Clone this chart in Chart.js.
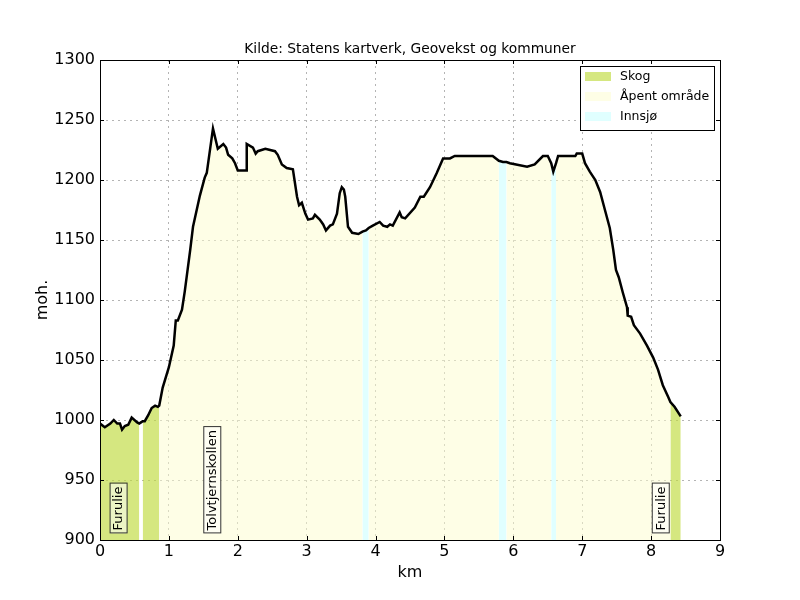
<!DOCTYPE html>
<html lang="no">
<head>
  <meta charset="UTF-8">
  <title>Høydeprofil Furulie</title>
  <script src="https://cdn.jsdelivr.net/npm/chart.js"></script>
  <style>
    body { margin: 0; background: #fff; }
    #wrap { width: 800px; height: 600px; }
  </style>
</head>
<body>
  <div id="wrap"><canvas id="profil" width="800" height="600"></canvas></div>
  <script>
    // avstand (km) og høyde (moh.)
    const km = [
      0, 0.07, 0.15, 0.20, 0.25, 0.29, 0.32, 0.36, 0.41, 0.46, 0.54, 0.57, 0.595, 0.62, 0.65, 0.70, 0.75, 0.80, 0.84, 0.86,
      0.91, 1.00, 1.07, 1.10, 1.13, 1.19, 1.23, 1.31, 1.35, 1.45, 1.52, 1.55, 1.64, 1.71, 1.79, 1.83, 1.86, 1.92, 1.96, 2.00,
      2.12, 2.13, 2.22, 2.26, 2.29, 2.40, 2.54, 2.58, 2.64, 2.71, 2.80, 2.86, 2.89, 2.93, 2.98, 3.02, 3.09, 3.12, 3.19, 3.24,
      3.28, 3.34, 3.38, 3.44, 3.48, 3.51, 3.54, 3.56, 3.60, 3.66, 3.75, 3.81, 3.86, 3.90, 3.96, 4.06, 4.11, 4.17, 4.21, 4.25, 4.35,
      4.38, 4.43, 4.57, 4.65, 4.70, 4.79, 4.89, 4.98, 5.08, 5.15, 5.70, 5.79, 5.85, 5.90, 5.95, 6.20, 6.31, 6.43, 6.50, 6.55,
      6.58, 6.62, 6.65, 6.90, 6.92, 7.00, 7.04, 7.11, 7.19, 7.26, 7.33, 7.40, 7.45, 7.49, 7.53, 7.59, 7.65, 7.66, 7.71, 7.75,
      7.84, 7.94, 8.03, 8.10, 8.17, 8.25, 8.28, 8.34, 8.43
    ];
    const hoyde = [
      997, 994, 997, 1000, 997, 997, 992, 995, 996, 1002, 998, 997, 998, 999, 999, 1004, 1010, 1012, 1011, 1012,
      1027, 1044, 1062, 1083, 1083, 1092, 1107, 1142, 1161, 1187, 1202, 1206, 1243, 1226, 1230, 1227, 1221, 1218, 1214, 1208,
      1208, 1230, 1227, 1222, 1224, 1226, 1224, 1221, 1213, 1210, 1209, 1186, 1179, 1181, 1172, 1167, 1168, 1171, 1167, 1163,
      1158, 1162, 1163, 1172, 1189, 1194, 1192, 1186, 1161, 1156, 1155, 1157, 1158, 1160, 1162, 1165, 1162, 1161, 1163, 1162, 1173,
      1169, 1168, 1177, 1186, 1186, 1194, 1206, 1218, 1218, 1220, 1220, 1216, 1215, 1215, 1214, 1211, 1213, 1220, 1220, 1214,
      1207, 1214, 1220, 1220, 1222, 1222, 1214, 1207, 1200, 1190, 1175, 1160, 1142, 1125, 1119, 1106, 1094, 1087, 1086, 1079,
      1072, 1062, 1052, 1042, 1029, 1019, 1015, 1011, 1003
    ];

    // arealtype langs ruta: [fra km, til km]
    const skog = [[0, 0.57], [0.62, 0.86], [8.28, 8.43]];
    const apent = [[0.86, 3.81], [3.90, 5.79], [5.90, 6.55], [6.62, 8.28]];
    const innsjo = [[3.81, 3.90], [5.79, 5.90], [6.55, 6.62]];

    const stedsnavn = ['Furulie', 'Tolvtjernskollen', 'Furulie'];
    const stedKm = [0.27, 1.63, 8.14];

    const xTicks = [0, 1, 2, 3, 4, 5, 6, 7, 8, 9];
    const yTicks = [900, 950, 1000, 1050, 1100, 1150, 1200, 1250, 1300];

    const font = 'DejaVu Sans';

    function omrade(ranges) {
      return km.map((x, i) => ranges.some(r => x >= r[0] && x <= r[1]) ? { x: x, y: hoyde[i] } : { x: x, y: null });
    }

    function fyll(label, ranges, color) {
      return {
        label: label,
        data: omrade(ranges),
        backgroundColor: color,
        borderWidth: 0,
        borderColor: 'rgba(0,0,0,0)',
        pointRadius: 0,
        fill: { value: 900 },
        spanGaps: false,
        tension: 0,
        order: 2
      };
    }

    const farger = {
      skog: 'rgba(190,218,60,0.65)',
      apent: 'rgba(253,253,205,0.5)',
      innsjo: '#e0ffff'
    };

    const ramme = {
      id: 'ramme',
      afterDatasetsDraw(chart) {
        const { ctx, chartArea: a, scales } = chart;
        const xs = scales.x, ys = scales.y;

        // stedsnavn
        ctx.save();
        ctx.font = '13px "' + font + '"';
        stedsnavn.forEach((navn, i) => {
          const px = xs.getPixelForValue(stedKm[i]);
          const py = ys.getPixelForValue(905.5);
          const w = ctx.measureText(navn).width;
          ctx.save();
          ctx.translate(px, py);
          ctx.rotate(-Math.PI / 2);
          ctx.fillStyle = 'rgba(255,255,255,0.55)';
          ctx.strokeStyle = '#333';
          ctx.lineWidth = 1;
          ctx.fillRect(0, -8.5, w + 6, 17);
          ctx.strokeRect(0.5, -8.5, w + 6, 17);
          ctx.fillStyle = '#000';
          ctx.textBaseline = 'middle';
          ctx.fillText(navn, 3, 0.5);
          ctx.restore();
        });
        ctx.restore();

        // ramme og innovervendte ticks
        ctx.save();
        ctx.strokeStyle = '#000';
        ctx.lineWidth = 1;
        ctx.strokeRect(Math.round(a.left) + 0.5, Math.round(a.top) + 0.5, Math.round(a.right - a.left), Math.round(a.bottom - a.top));
        ctx.beginPath();
        xTicks.forEach(v => {
          const px = Math.round(xs.getPixelForValue(v)) + 0.5;
          ctx.moveTo(px, a.bottom); ctx.lineTo(px, a.bottom - 4);
          ctx.moveTo(px, a.top); ctx.lineTo(px, a.top + 4);
        });
        yTicks.forEach(v => {
          const py = Math.round(ys.getPixelForValue(v)) + 0.5;
          ctx.moveTo(a.left, py); ctx.lineTo(a.left + 4, py);
          ctx.moveTo(a.right, py); ctx.lineTo(a.right - 4, py);
        });
        ctx.stroke();

        // forklaring
        const lx = a.right - 140, ly = a.top + 6;
        ctx.fillStyle = '#fff';
        ctx.fillRect(lx, ly, 134, 64);
        ctx.strokeRect(lx + 0.5, ly + 0.5, 134, 64);
        const rader = [['Skog', farger.skog], ['Åpent område', farger.apent], ['Innsjø', farger.innsjo]];
        ctx.font = '12.5px "' + font + '"';
        ctx.textBaseline = 'middle';
        rader.forEach((r, i) => {
          const cy = ly + 11 + i * 20;
          ctx.fillStyle = r[1];
          ctx.fillRect(lx + 5, cy - 5, 26, 9);
          ctx.fillStyle = '#000';
          ctx.fillText(r[0], lx + 40, cy);
        });

        // titler
        ctx.font = '13.8px "' + font + '"';
        ctx.textAlign = 'center';
        ctx.textBaseline = 'alphabetic';
        ctx.fillText('Kilde: Statens kartverk, Geovekst og kommuner', (a.left + a.right) / 2, 53);
        ctx.font = '16px "' + font + '"';
        ctx.fillText('km', (a.left + a.right) / 2, 577);
        ctx.save();
        ctx.translate(47, (a.top + a.bottom) / 2);
        ctx.rotate(-Math.PI / 2);
        ctx.fillText('moh.', 0, 0);
        ctx.restore();
        ctx.restore();
      }
    };

    new Chart(document.getElementById('profil'), {
      type: 'line',
      data: {
        datasets: [
          {
            label: 'Høyde',
            data: km.map((x, i) => ({ x: x, y: hoyde[i] })),
            borderColor: '#000',
            borderWidth: 2.5,
            pointRadius: 0,
            fill: false,
            tension: 0,
            order: 0
          },
          fyll('Skog', skog, farger.skog),
          fyll('Åpent område', apent, farger.apent),
          fyll('Innsjø', innsjo, farger.innsjo)
        ]
      },
      options: {
        responsive: false,
        animation: false,
        layout: { padding: { top: 60, right: 80, left: 0, bottom: 0 } },
        plugins: {
          legend: { display: false },
          tooltip: { enabled: false },
          title: { display: false }
        },
        scales: {
          x: {
            type: 'linear',
            min: 0,
            max: 9,
            afterFit: s => { s.height = 60; },
            afterBuildTicks: s => { s.ticks = xTicks.map(v => ({ value: v })); },
            ticks: { color: '#000', font: { family: font, size: 16 }, padding: 2, maxRotation: 0, callback: v => String(v) },
            grid: { color: '#b4b4b4', lineWidth: 1, drawTicks: false, tickLength: 0 },
            border: { display: false, dash: [2, 4] }
          },
          y: {
            min: 900,
            max: 1300,
            afterFit: s => { s.width = 100; },
            afterBuildTicks: s => { s.ticks = yTicks.map(v => ({ value: v })); },
            ticks: { color: '#000', font: { family: font, size: 16 }, padding: 5, callback: v => String(v) },
            grid: { color: '#b4b4b4', lineWidth: 1, drawTicks: false, tickLength: 0 },
            border: { display: false, dash: [2, 4] }
          }
        }
      },
      plugins: [ramme]
    });
  </script>
</body>
</html>
